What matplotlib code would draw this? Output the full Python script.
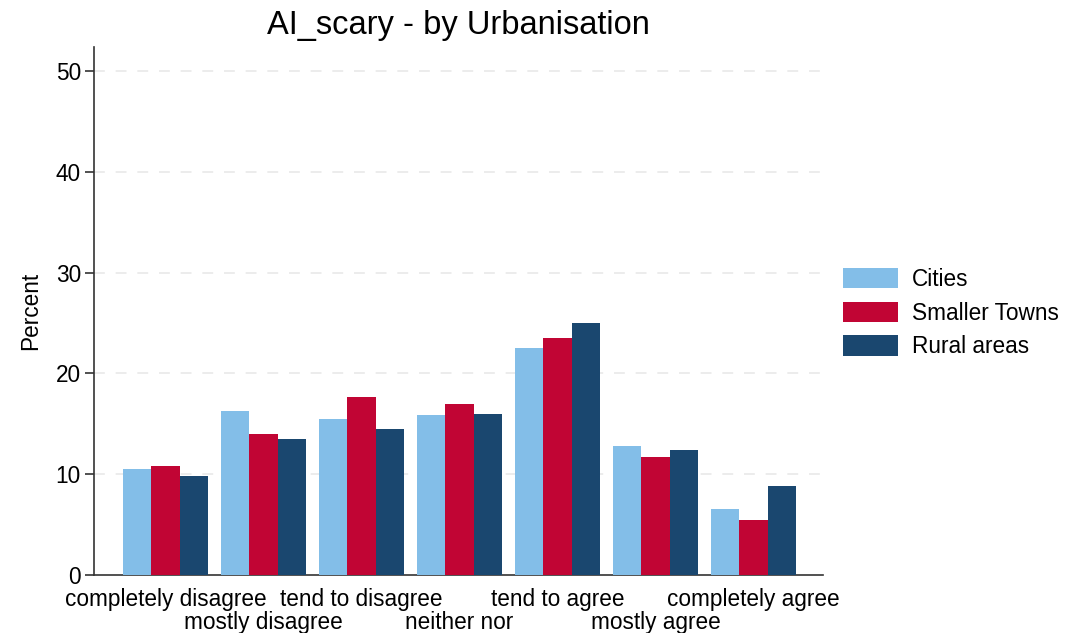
import matplotlib
matplotlib.use('Agg')
import matplotlib.pyplot as plt
import numpy as np

plt.rcParams['font.family'] = ['Liberation Sans', 'DejaVu Sans']

categories = ['completely disagree', 'mostly disagree', 'tend to disagree', 'neither nor',
              'tend to agree', 'mostly agree', 'completely agree']
groups = ['Cities', 'Smaller Towns', 'Rural areas']
cities = [10.5, 16.3, 15.5, 15.9, 22.5, 12.8, 6.5]
towns = [10.8, 14.0, 17.7, 17.0, 23.5, 11.7, 5.5]
rural = [9.8, 13.5, 14.5, 16.0, 25.0, 12.4, 8.8]
colors = ['#83BEE8', '#C10534', '#1A476F']

fig = plt.figure(figsize=(10.69, 6.33), dpi=100)
ax = fig.add_axes([0.088, 0.0916, 0.682, 0.8344])

x = np.arange(len(categories))
w = 0.289
for i, (vals, name, c) in enumerate(zip([cities, towns, rural], groups, colors)):
    ax.bar(x + (i - 1) * w, vals, width=w, color=c, label=name, zorder=3)

ax.set_xlim(-0.73, 6.71)
ax.set_ylim(0, 52.4)
ax.set_yticks([0, 10, 20, 30, 40, 50])
for yv in [10, 20, 30, 40, 50]:
    ax.axhline(yv, color='#EAEAEA', linestyle=(0, (6, 6)), linewidth=1.3, zorder=1)

# alternate the category labels over two rows, like the original
ax.set_xticks(x)
ax.set_xticklabels(categories, fontsize=16.3)
ax.tick_params(axis='x', length=0, pad=9.5)
for k, t in enumerate(ax.xaxis.get_major_ticks()):
    if k % 2 == 1:
        t.set_pad(26)
ax.tick_params(axis='y', labelsize=16.3, length=6.5, width=1.2, color='#333333', pad=3)
ax.set_ylabel('Percent', fontsize=16.3, labelpad=10)

for s in ['top', 'right']:
    ax.spines[s].set_visible(False)
for s in ['left', 'bottom']:
    ax.spines[s].set_color('#333333')
    ax.spines[s].set_linewidth(1.2)

ax.set_title('AI_scary - by Urbanisation', fontsize=23.5, pad=9)

fig.legend(loc='center left', bbox_to_anchor=(0.7886, 0.5055), frameon=False,
           fontsize=16.3, handlelength=2.43, handleheight=1.0, handletextpad=0.62,
           labelspacing=0.47, borderpad=0, borderaxespad=0)

fig.savefig('out.png', dpi=100)
